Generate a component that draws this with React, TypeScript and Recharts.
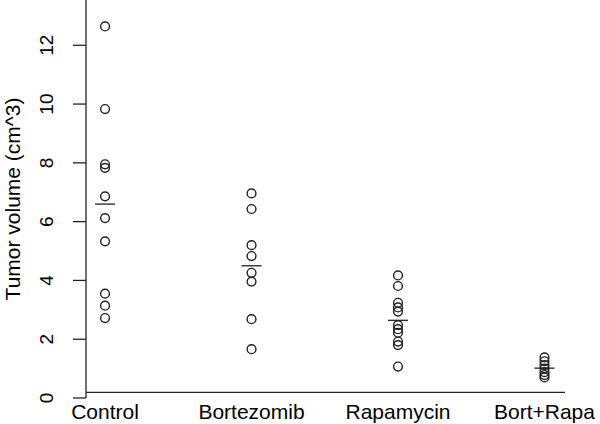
import { ScatterChart, Scatter, XAxis, YAxis } from "recharts"

const groups = ["Control", "Bortezomib", "Rapamycin", "Bort+Rapa"]

const control = [12.64, 9.83, 7.95, 7.83, 6.86, 6.12, 5.33, 3.55, 3.14, 2.72]
const bortezomib = [6.96, 6.43, 5.2, 4.83, 4.26, 3.96, 2.68, 1.66]
const rapamycin = [4.17, 3.81, 3.24, 3.08, 2.94, 2.48, 2.34, 2.22, 1.92, 1.8, 1.07]
const bortRapa = [1.38, 1.25, 1.12, 1.0, 0.88, 0.78, 0.7]

const yTicks = [0, 2, 4, 6, 8, 10, 12]

const FONT = "'Liberation Sans', Arial, Helvetica, sans-serif"
const INK = "#222"

const series = [control, bortezomib, rapamycin, bortRapa]

const points = series.flatMap((vals, i) => vals.map(v => ({ x: i, y: v })))
const means = series.map((vals, i) => ({
    x: i,
    y: vals.reduce((a, b) => a + b, 0) / vals.length,
}))

const Ring = (props: any) => {
    const { cx, cy } = props
    return <circle cx={cx} cy={cy} r={4.4} fill="none" stroke={INK} strokeWidth={1.4} />
}

const MeanDash = (props: any) => {
    const { cx, cy } = props
    return <line x1={cx - 10} x2={cx + 10} y1={cy} y2={cy} stroke={INK} strokeWidth={1.3} />
}

const YTick = (props: any) => {
    const { x, y, payload } = props
    return (
        <text
            x={x}
            y={y}
            transform={`rotate(-90, ${x}, ${y})`}
            textAnchor="middle"
            fontSize={19}
            fontFamily={FONT}
            fill="#000"
        >
            {payload.value}
        </text>
    )
}

const YTitle = (props: any) => {
    const { viewBox } = props
    const x = viewBox.x + 20
    const y = viewBox.y + viewBox.height / 2
    return (
        <text
            x={x}
            y={y}
            transform={`rotate(-90, ${x}, ${y})`}
            textAnchor="middle"
            fontSize={21}
            fontFamily={FONT}
            fill="#000"
        >
            Tumor volume (cm^3)
        </text>
    )
}

export default function App() {
    return (
        <div style={{ position: "absolute", left: 0, top: 0, background: "#fff" }}>
            <ScatterChart width={600} height={424} margin={{ top: 0, right: 35, bottom: 0, left: 0 }}>
                <XAxis
                    type="number"
                    dataKey="x"
                    domain={[-0.13, 3.14]}
                    ticks={[0, 1, 2, 3]}
                    tickFormatter={(v: number) => groups[v]}
                    interval={0}
                    height={26}
                    tickLine={false}
                    tickSize={0}
                    tickMargin={6}
                    axisLine={{ stroke: INK, strokeWidth: 1.3, transform: "translate(0,-5.6)" }}
                    tick={{ fontSize: 21, fontFamily: FONT, fill: "#000" }}
                    allowDataOverflow
                />
                <YAxis
                    type="number"
                    dataKey="y"
                    domain={[0, 13.54]}
                    ticks={yTicks}
                    interval={0}
                    width={86}
                    tickSize={13}
                    tickMargin={20}
                    axisLine={{ stroke: INK, strokeWidth: 1.3 }}
                    tickLine={{ stroke: INK, strokeWidth: 1.3 }}
                    tick={<YTick />}
                    label={<YTitle />}
                    allowDataOverflow
                />
                <Scatter data={points} shape={<Ring />} isAnimationActive={false} />
                <Scatter data={means} shape={<MeanDash />} isAnimationActive={false} />
            </ScatterChart>
        </div>
    )
}
